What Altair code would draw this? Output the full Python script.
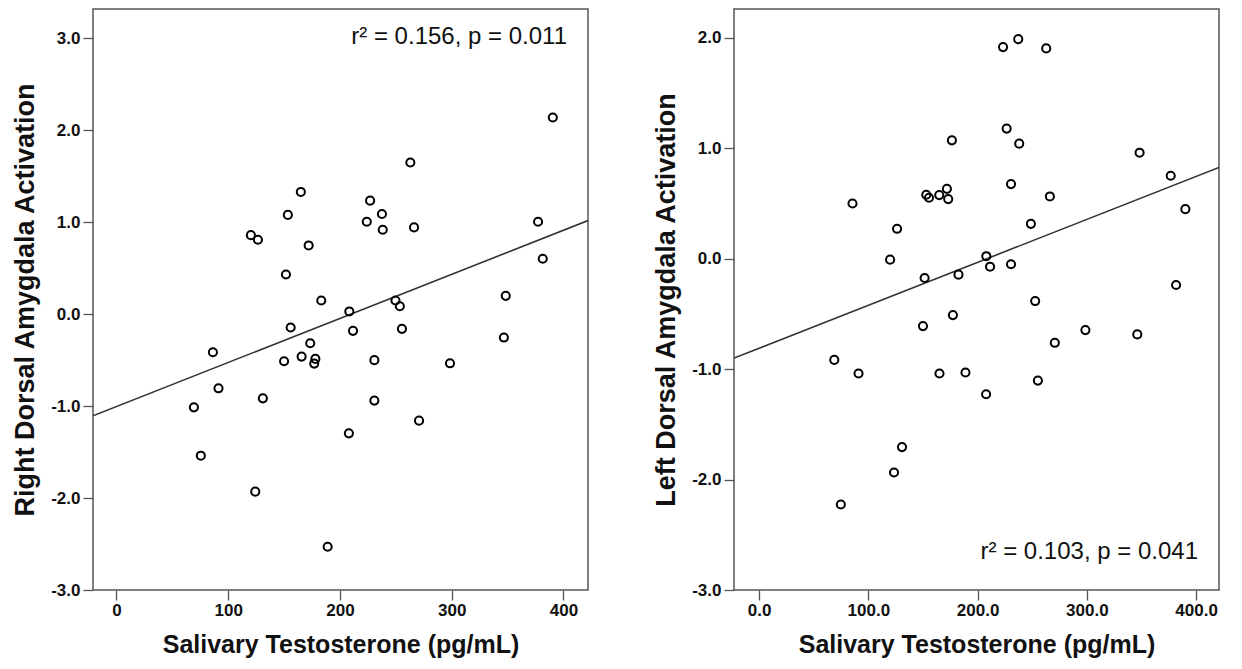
import altair as alt
import pandas as pd

# ---- Data ----
right_testosterone = [390.5, 263, 165, 227, 237.6, 153.4, 224, 377.3, 266.3, 238.3,
                      120.3, 126.6, 172, 381.5, 151.7, 348.4, 183.3, 249.7, 253.6, 208.4,
                      155.9, 211.7, 255.5, 346.7, 173.4, 86.3, 165.7, 178, 177, 150,
                      230.8, 298.5, 91.3, 131, 230.8, 69.3, 270.8, 208, 75.5, 124.2, 189]
right_activation = [2.14, 1.65, 1.33, 1.235, 1.09, 1.08, 1.006, 1.006, 0.944, 0.919,
                    0.86, 0.81, 0.748, 0.603, 0.432, 0.2, 0.149, 0.149, 0.087, 0.03,
                    -0.145, -0.181, -0.159, -0.254, -0.316, -0.414, -0.461, -0.486, -0.537, -0.512,
                    -0.5, -0.534, -0.806, -0.915, -0.94, -1.013, -1.158, -1.296, -1.539, -1.93, -2.53]

left_testosterone = [237.2, 223.3, 262.8, 226.6, 176.5, 238.1, 348.3, 376.8, 230.6, 171.9,
                     85.5, 153, 155.5, 164.9, 173.1, 266.2, 390.2, 248.8, 126.3, 208,
                     119.9, 211.4, 230.6, 151.5, 182.5, 381.7, 252.7, 177.4, 150, 298.7,
                     346.2, 270.7, 68.8, 91, 165.1, 188.9, 255.2, 207.8, 130.8, 123.5, 74.8]
left_activation = [1.987, 1.915, 1.903, 1.177, 1.071, 1.041, 0.959, 0.75, 0.675, 0.632,
                   0.499, 0.578, 0.551, 0.575, 0.539, 0.563, 0.448, 0.315, 0.27, 0.022,
                   -0.009, -0.073, -0.051, -0.175, -0.145, -0.239, -0.384, -0.511, -0.611, -0.647,
                   -0.686, -0.762, -0.917, -1.04, -1.04, -1.031, -1.104, -1.228, -1.706, -1.936, -2.226]

x_ticks = [0, 100, 200, 300, 400]
right_y_ticks = [-3, -2, -1, 0, 1, 2, 3]
left_y_ticks = [-3, -2, -1, 0, 1, 2]

x_title = "Salivary Testosterone (pg/mL)"
right_y_title = "Right Dorsal Amygdala Activation"
left_y_title = "Left Dorsal Amygdala Activation"
right_stat = ["r² = 0.156, p = 0.011"]
left_stat = ["r² = 0.103, p = 0.041"]

FONT = "Liberation Sans"
H = 581


def panel(t, a, xdom, ydom, yvals, xlabel_expr, ytitle, stat, stat_y, w):
    df = pd.DataFrame({"t": t, "a": a})
    base = alt.Chart(df)
    x = alt.X("t:Q",
              scale=alt.Scale(domain=xdom, nice=False, zero=False),
              axis=alt.Axis(values=x_ticks, labelExpr=xlabel_expr, title=x_title,
                            labelPadding=2, titlePadding=14))
    y = alt.Y("a:Q",
              scale=alt.Scale(domain=ydom, nice=False, zero=False),
              axis=alt.Axis(values=yvals,
                            labelExpr="(datum.value < 0 ? '-' : '') + format(abs(datum.value), '.1f')",
                            title=ytitle, labelPadding=3, titlePadding=11))
    line = base.transform_regression("t", "a", extent=xdom).mark_line(
        color="#333333", strokeWidth=1.6, clip=True).encode(x=x, y=y)
    pts = base.mark_point(shape="circle", filled=False, size=66, strokeWidth=2,
                          color="black", opacity=1).encode(x=x, y=y)
    txt = alt.Chart(pd.DataFrame({"label": stat})).mark_text(
        align="right", baseline="middle", fontSize=24, font=FONT, color="#111111"
    ).encode(x=alt.value(w - 21), y=alt.value(stat_y), text="label:N")
    return alt.layer(line, pts, txt).properties(width=w, height=H)


left_panel = panel(right_testosterone, right_activation, [-21, 422], [-3, 3.32],
                   right_y_ticks, "format(datum.value, 'd')", right_y_title,
                   right_stat, 28, 495)
right_panel = panel(left_testosterone, left_activation, [-23, 421], [-3, 2.26],
                    left_y_ticks, "format(datum.value, '.1f')", left_y_title,
                    left_stat, 543, 485)

chart = alt.hconcat(left_panel, right_panel, spacing=62).properties(
    padding={"left": 2, "top": 0, "right": 0, "bottom": 0}
).configure_view(
    stroke="#555555", strokeWidth=1.5
).configure_axis(
    labelFont=FONT, titleFont=FONT, labelFontWeight="bold", titleFontWeight="bold",
    labelFontSize=17, titleFontSize=25, labelColor="#111111", titleColor="#111111",
    domain=False, grid=False, tickSize=10, tickColor="#555555", tickWidth=1.3
).configure_axisY(
    titleFontSize=27
)

chart.save("out.html", embed_options={"renderer": "svg", "actions": False})
